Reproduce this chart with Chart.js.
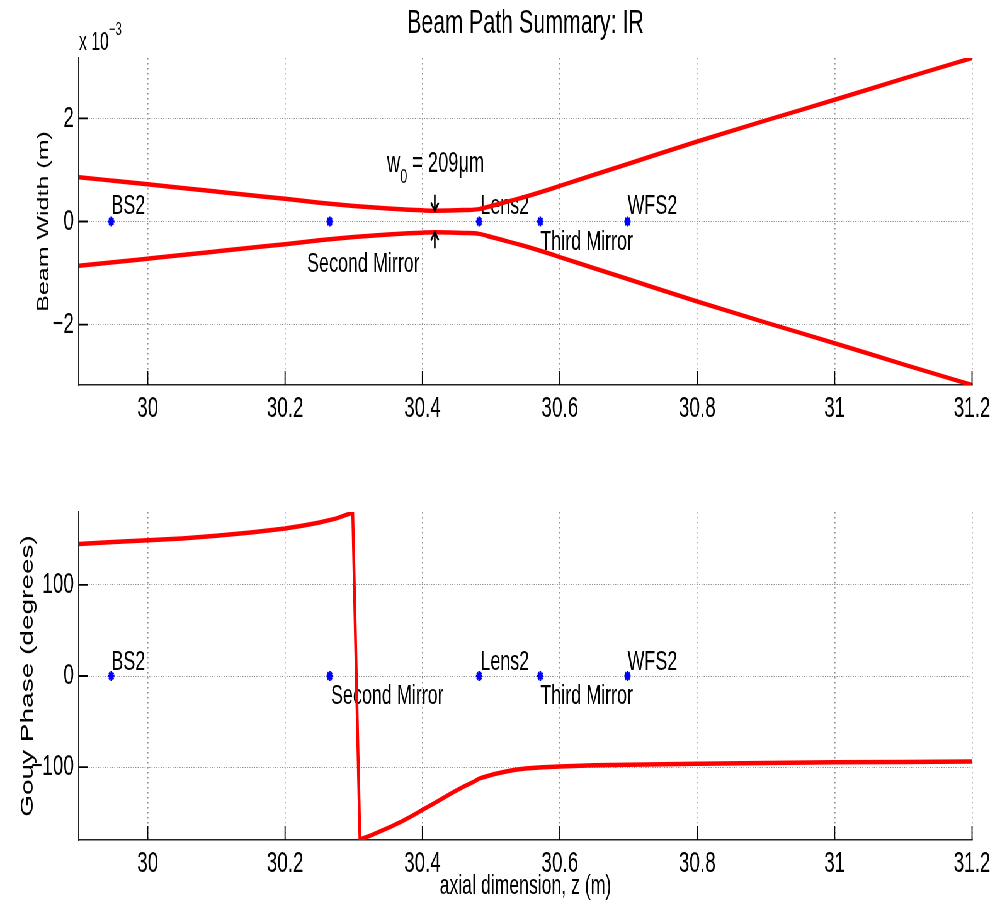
<!DOCTYPE html>
<html>
<head>
<meta charset="utf-8">
<script src="https://cdn.jsdelivr.net/npm/chart.js@4.4.0/dist/chart.umd.min.js"></script>
<style>
  html, body { margin: 0; padding: 0; background: #fff; overflow: hidden; }
  /* the figure is laid out wide and squeezed horizontally, like the original export */
  #wrap { position: absolute; left: 0; top: 0; width: 1580px; height: 907px;
          transform: scaleX(0.62975); transform-origin: 0 0; }
  .box { position: absolute; left: 0; width: 1580px; }
</style>
</head>
<body>
<div id="wrap">
  <div class="box" style="top:0;height:450px"><canvas id="beam"></canvas></div>
  <div class="box" style="top:450px;height:457px"><canvas id="gouy"></canvas></div>
</div>
<script>
// axial position (m) and beam radius (units of 1e-3 m)
const zBeam = [29.9, 29.95, 30.0, 30.05, 30.1, 30.15, 30.2, 30.25, 30.3, 30.35, 30.38, 30.4,
  30.418, 30.44, 30.46, 30.4825, 30.5, 30.525, 30.55, 30.575, 30.6, 30.65, 30.7, 30.8, 30.9,
  31.0, 31.1, 31.2];
const beamWidth = [0.86, 0.79, 0.72, 0.65, 0.58, 0.51, 0.44, 0.365, 0.30, 0.25, 0.228, 0.216,
  0.21, 0.213, 0.222, 0.24, 0.30, 0.39, 0.48, 0.58, 0.69, 0.905, 1.12, 1.55, 1.96,
  2.36, 2.77, 3.17];

// Gouy phase (degrees)
const zGouy = [29.9, 29.95, 30.0, 30.05, 30.1, 30.15, 30.2, 30.225, 30.25, 30.275, 30.2985,
  30.309, 30.325, 30.34, 30.355, 30.37, 30.385, 30.4, 30.415, 30.43, 30.445, 30.46, 30.475,
  30.4825, 30.49, 30.505, 30.52, 30.535, 30.55, 30.575, 30.6, 30.65, 30.7, 30.8, 30.9,
  31.0, 31.1, 31.2];
const gouyPhase = [145, 147, 149, 151, 154, 157.5, 162, 165, 168.5, 173, 179.5,
  -179.5, -175, -170, -165, -159.5, -153.5, -147, -140.5, -134, -127.5, -121.5, -116,
  -112.6, -110.8, -107.5, -105, -103, -101.6, -100.2, -99.2, -98, -97.3, -96.2, -95.4,
  -94.8, -94.3, -93.9];

// optical components along the path
const compNames = ['BS2', 'Second Mirror', 'Lens2', 'Third Mirror', 'WFS2'];
const compZ = [29.947, 30.265, 30.4825, 30.5715, 30.6985];

const waistZ = 30.418;
const waistUm = 209;

const zTicks = [30, 30.2, 30.4, 30.6, 30.8, 31, 31.2];
const widthTicks = [-2, 0, 2];
const gouyTicks = [-100, 0, 100];

const FONT = "'Liberation Sans', Arial, Helvetica, sans-serif";
const RED = '#ff0000';
const BLUE = '#0000ff';

const fmt = v => (v < 0 ? '\u2212' + Math.abs(v) : String(v));

// label offsets (px) from each marker: [dx, baseline dy]
const beamPlace = [[0, -8], [-36, 50], [2, -8], [0, 28], [0, -8]];
const gouyPlace = [[0, -6], [2, 28], [2, -6], [0, 28], [0, -6]];

const figPlugin = {
  id: 'fig',
  beforeDatasetsDraw(chart, args, opts) {
    const { ctx } = chart;
    const xs = chart.scales.x, ys = chart.scales.y;
    ctx.save();
    ctx.fillStyle = '#000';
    ctx.font = '28.5px ' + FONT;
    ctx.textAlign = 'left';
    ctx.textBaseline = 'alphabetic';
    compNames.forEach((name, i) => {
      const p = opts.place[i];
      ctx.fillText(name, xs.getPixelForValue(compZ[i]) + p[0], ys.getPixelForValue(0) + p[1]);
    });
    ctx.restore();
  },
  afterDraw(chart, args, opts) {
    const { ctx, chartArea } = chart;
    const xs = chart.scales.x, ys = chart.scales.y;
    ctx.save();
    // inward tick marks
    ctx.strokeStyle = '#000';
    ctx.lineWidth = 1.8;
    ctx.beginPath();
    xs.ticks.forEach(t => {
      const x = xs.getPixelForValue(t.value);
      ctx.moveTo(x, chartArea.bottom);
      ctx.lineTo(x, chartArea.bottom - 14);
    });
    ys.ticks.forEach(t => {
      const y = ys.getPixelForValue(t.value);
      ctx.moveTo(chartArea.left, y);
      ctx.lineTo(chartArea.left + 14, y);
    });
    ctx.stroke();
    ctx.restore();
    if (opts.extra) opts.extra(chart);
  }
};

function beamExtras(chart) {
  const { ctx, chartArea } = chart;
  const xs = chart.scales.x, ys = chart.scales.y;
  ctx.save();
  ctx.fillStyle = '#000';
  ctx.textBaseline = 'alphabetic';
  // title
  ctx.font = '34px ' + FONT;
  ctx.textAlign = 'center';
  ctx.fillText('Beam Path Summary: IR', (chartArea.left + chartArea.right) / 2, 33);
  // exponent
  ctx.textAlign = 'left';
  ctx.font = '25px ' + FONT;
  const ex = chartArea.left;
  ctx.fillText('x 10', ex, 50);
  const ew = ctx.measureText('x 10').width;
  ctx.font = '18px ' + FONT;
  ctx.fillText('\u22123', ex + ew, 35);
  // waist annotation
  const wx = xs.getPixelForValue(waistZ);
  const y0 = ys.getPixelForValue(0);
  let tx = wx - 76;
  ctx.font = '29px ' + FONT;
  ctx.fillText('w', tx, y0 - 50);
  tx += ctx.measureText('w').width;
  ctx.font = '20px ' + FONT;
  ctx.fillText('0', tx, y0 - 39);
  tx += ctx.measureText('0').width;
  ctx.font = '29px ' + FONT;
  ctx.fillText(' = ' + waistUm + '\u03bcm', tx, y0 - 50);
  // arrows pointing at the waist
  const wPx = ys.getPixelForValue(waistUm / 1000);
  const wNeg = ys.getPixelForValue(-waistUm / 1000);
  ctx.strokeStyle = '#000';
  ctx.lineWidth = 2.6;
  ctx.beginPath();
  ctx.moveTo(wx, wPx - 16); ctx.lineTo(wx, wPx);
  ctx.moveTo(wx - 6, wPx - 8); ctx.lineTo(wx, wPx); ctx.lineTo(wx + 6, wPx - 8);
  ctx.moveTo(wx, wNeg + 16); ctx.lineTo(wx, wNeg);
  ctx.moveTo(wx - 6, wNeg + 8); ctx.lineTo(wx, wNeg); ctx.lineTo(wx + 6, wNeg + 8);
  ctx.stroke();
  ctx.restore();
}

function xScale(height, withTitle) {
  return {
    type: 'linear',
    min: 29.9,
    max: 31.2,
    afterBuildTicks: s => { s.ticks = zTicks.map(v => ({ value: v })); },
    afterFit: s => { s.height = height; },
    ticks: { color: '#000', font: { family: FONT, size: 30 }, padding: 6, maxRotation: 0, callback: fmt },
    grid: { color: '#8c8c8c', lineWidth: 1.6, drawTicks: false },
    border: { display: true, color: '#222', width: 1.6, dash: [1.5, 3.5] },
    title: {
      display: withTitle, text: 'axial dimension, z (m)', color: '#000',
      font: { family: FONT, size: 28 }, padding: { top: 0, bottom: 4 }
    }
  };
}

function yScale(lim, tickVals, label, titleSize, titlePad) {
  return {
    min: -lim,
    max: lim,
    afterBuildTicks: s => { s.ticks = tickVals.map(v => ({ value: v })); },
    afterFit: s => { s.width = 125.4; },
    ticks: { color: '#000', font: { family: FONT, size: 30 }, padding: 8, callback: fmt },
    grid: { color: '#8c8c8c', lineWidth: 1, drawTicks: false },
    border: { display: true, color: '#222', width: 2, dash: [1.5, 2.2] },
    title: {
      display: true, text: label, color: '#000',
      font: { family: FONT, size: titleSize }, padding: { top: titlePad, bottom: 0 }
    }
  };
}

function lineSet(xs, ys, smooth) {
  return {
    data: xs.map((x, i) => ({ x: x, y: ys[i] })),
    borderColor: RED, borderWidth: 4.5, pointRadius: 0,
    cubicInterpolationMode: smooth ? 'monotone' : 'default', tension: 0, fill: false
  };
}

function markerSet() {
  return {
    type: 'scatter',
    data: compZ.map(z => ({ x: z, y: 0 })),
    pointStyle: 'star', pointRadius: 5, borderColor: BLUE, backgroundColor: BLUE,
    borderWidth: 2.6, showLine: false
  };
}

new Chart(document.getElementById('beam'), {
  type: 'line',
  data: {
    datasets: [
      lineSet(zBeam, beamWidth, true),
      lineSet(zBeam, beamWidth.map(v => -v), true),
      markerSet()
    ]
  },
  options: {
    responsive: true,
    maintainAspectRatio: false,
    animation: false,
    layout: { padding: { top: 58, right: 36.5, bottom: 0, left: 0 } },
    plugins: {
      legend: { display: false },
      tooltip: { enabled: false },
      fig: { place: beamPlace, extra: beamExtras }
    },
    scales: {
      x: xScale(65, false),
      y: yScale(3.17, widthTicks, 'Beam Width (m)', 25, 55)
    }
  },
  plugins: [figPlugin]
});

new Chart(document.getElementById('gouy'), {
  type: 'line',
  data: {
    datasets: [
      lineSet(zGouy, gouyPhase, false),
      markerSet()
    ]
  },
  options: {
    responsive: true,
    maintainAspectRatio: false,
    animation: false,
    layout: { padding: { top: 62, right: 36.5, bottom: 0, left: 0 } },
    plugins: {
      legend: { display: false },
      tooltip: { enabled: false },
      fig: { place: gouyPlace }
    },
    scales: {
      x: xScale(67, true),
      y: yScale(180, gouyTicks, 'Gouy Phase (degrees)', 28, 27)
    }
  },
  plugins: [figPlugin]
});
</script>
</body>
</html>
